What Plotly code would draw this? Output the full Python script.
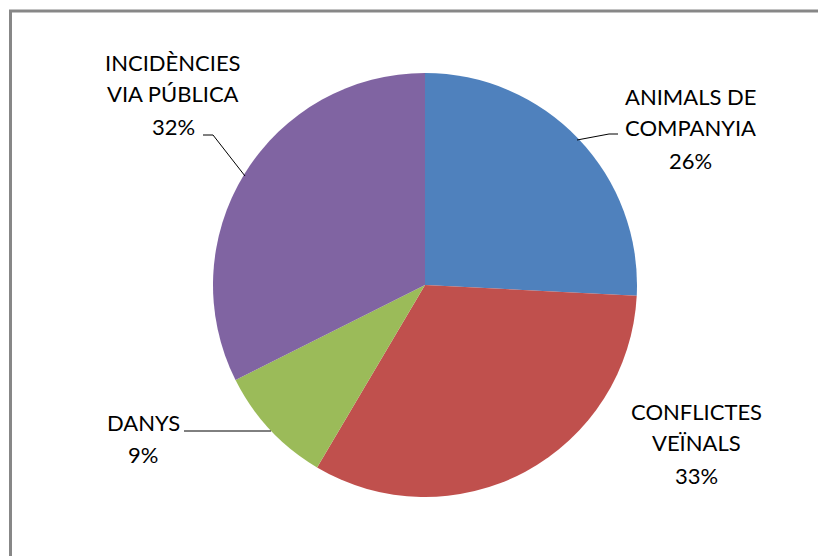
import plotly.graph_objects as go

# page body has an 8px default margin: the figure sits at (8, 8) in the window
OFF = 8
WIN_W, WIN_H = 826, 556
W, H = WIN_W - OFF, WIN_H - OFF

# ---- data ----
categories = ["ANIMALS DE COMPANYIA", "CONFLICTES VEÏNALS", "DANYS", "INCIDÈNCIES VIA PÚBLICA"]
values = [25.8, 32.7, 9.1, 32.4]   # shares
label_lines = [["ANIMALS DE", "COMPANYIA"], ["CONFLICTES", "VEÏNALS"], ["DANYS"], ["INCIDÈNCIES", "VIA PÚBLICA"]]
colors = ["#4F81BD", "#C0504D", "#9BBB59", "#8064A2"]

# ---- layout (window pixel positions) ----
center = (425, 285)
radius = 212
label_pos = [(690, 96), (696, 411), (143, 422), (173, 62)]  # centre of first line
line_gap = 32
leaders = [
    [(577, 140), (609, 134), (618, 134)],
    None,
    [(271, 431), (184, 431)],
    [(245, 176), (213, 135), (203, 135)],
]

def px(x, y):
    return (x - OFF) / W, 1 - (y - OFF) / H

total = sum(values)
x0, y0 = px(center[0] - radius, center[1] + radius)
x1, y1 = px(center[0] + radius, center[1] - radius)

fig = go.Figure(go.Pie(
    labels=categories, values=values, sort=False, direction="clockwise", rotation=0,
    marker=dict(colors=colors, line=dict(width=0)),
    textinfo="none", hoverinfo="label+percent", showlegend=False,
    domain=dict(x=[x0, x1], y=[y0, y1]),
))

annotations = []
font = dict(family="Lato, Carlito, Calibri, sans-serif", size=22, color="#000000")
for lines, v, (lx, ly) in zip(label_lines, values, label_pos):
    texts = lines + [f"{round(100 * v / total)}%"]
    for i, t in enumerate(texts):
        ax, ay = px(lx, ly + i * line_gap)
        annotations.append(dict(x=ax, y=ay, xref="paper", yref="paper", text=t,
                                showarrow=False, xanchor="center", yanchor="middle", font=font))

shapes = []
for pts in leaders:
    if not pts:
        continue
    path = "M " + " L ".join(f"{px(x, y)[0]},{px(x, y)[1]}" for x, y in pts)
    shapes.append(dict(type="path", path=path, xref="paper", yref="paper",
                       line=dict(color="#000000", width=1)))

# outer frame (left and top edges visible)
bx, by = px(10.5, 11)
shapes.append(dict(type="line", xref="paper", yref="paper", x0=bx, y0=0, x1=bx, y1=by,
                   line=dict(color="#878787", width=3)))
shapes.append(dict(type="line", xref="paper", yref="paper", x0=px(9, 0)[0], y0=by, x1=1, y1=by,
                   line=dict(color="#878787", width=3)))

fig.update_layout(width=W, height=H, margin=dict(l=0, r=0, t=0, b=0),
                  paper_bgcolor="white", plot_bgcolor="white",
                  annotations=annotations, shapes=shapes)

fig.write_html("out.html")
